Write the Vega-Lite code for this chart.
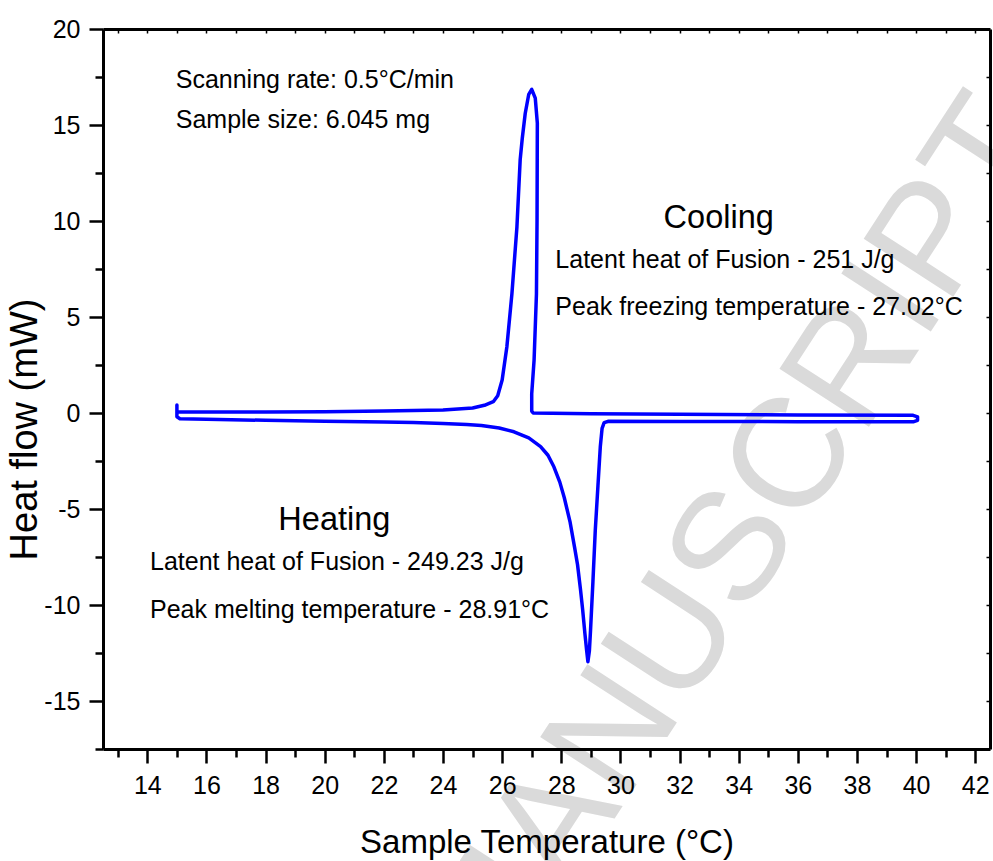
{
  "$schema": "https://vega.github.io/schema/vega-lite/v6.json",
  "width": 887,
  "height": 720,
  "autosize": {"type": "none"},
  "padding": {"left": 103, "top": 29, "right": 3, "bottom": 112},
  "background": "white",
  "config": {
    "view": {"stroke": null},
    "font": "Liberation Sans",
    "axis": {
      "grid": false,
      "domainColor": "black",
      "tickColor": "black",
      "labelColor": "black",
      "titleColor": "black",
      "domainWidth": 3,
      "tickWidth": 2.5,
      "labelFont": "Liberation Sans",
      "titleFont": "Liberation Sans",
      "labelFontSize": 25,
      "titleFontWeight": "normal"
    }
  },
  "datasets": {
    "curve": [
      {"i": 0, "t": 15.0, "h": 0.42},
      {"i": 1, "t": 15.0, "h": -0.2},
      {"i": 2, "t": 15.1, "h": -0.3},
      {"i": 3, "t": 16.0, "h": -0.33},
      {"i": 4, "t": 18.0, "h": -0.38},
      {"i": 5, "t": 20.0, "h": -0.43},
      {"i": 6, "t": 22.0, "h": -0.47},
      {"i": 7, "t": 23.0, "h": -0.5},
      {"i": 8, "t": 24.0, "h": -0.55},
      {"i": 9, "t": 24.8, "h": -0.6},
      {"i": 10, "t": 25.3, "h": -0.65},
      {"i": 11, "t": 25.9, "h": -0.78},
      {"i": 12, "t": 26.4, "h": -0.98},
      {"i": 13, "t": 26.9, "h": -1.3},
      {"i": 14, "t": 27.3, "h": -1.75},
      {"i": 15, "t": 27.55, "h": -2.2},
      {"i": 16, "t": 27.75, "h": -2.8},
      {"i": 17, "t": 27.95, "h": -3.6},
      {"i": 18, "t": 28.1, "h": -4.4},
      {"i": 19, "t": 28.3, "h": -5.7},
      {"i": 20, "t": 28.45, "h": -7.0},
      {"i": 21, "t": 28.55, "h": -7.9},
      {"i": 22, "t": 28.65, "h": -9.2},
      {"i": 23, "t": 28.72, "h": -10.2},
      {"i": 24, "t": 28.8, "h": -11.5},
      {"i": 25, "t": 28.86, "h": -12.4},
      {"i": 26, "t": 28.9, "h": -12.95},
      {"i": 27, "t": 28.95, "h": -12.4},
      {"i": 28, "t": 28.99, "h": -11.3},
      {"i": 29, "t": 29.07, "h": -8.8},
      {"i": 30, "t": 29.15, "h": -6.1},
      {"i": 31, "t": 29.24, "h": -3.8},
      {"i": 32, "t": 29.32, "h": -1.75},
      {"i": 33, "t": 29.38, "h": -0.8},
      {"i": 34, "t": 29.45, "h": -0.5},
      {"i": 35, "t": 29.6, "h": -0.43},
      {"i": 36, "t": 32.0, "h": -0.44},
      {"i": 37, "t": 36.0, "h": -0.45},
      {"i": 38, "t": 39.9, "h": -0.46},
      {"i": 39, "t": 40.05, "h": -0.38},
      {"i": 40, "t": 40.05, "h": -0.2},
      {"i": 41, "t": 39.9, "h": -0.12},
      {"i": 42, "t": 36.0, "h": -0.1},
      {"i": 43, "t": 32.0, "h": -0.07},
      {"i": 44, "t": 29.0, "h": -0.04},
      {"i": 45, "t": 27.05, "h": 0.0},
      {"i": 46, "t": 27.0, "h": 0.1},
      {"i": 47, "t": 27.0, "h": 1.0},
      {"i": 48, "t": 27.08, "h": 2.75},
      {"i": 49, "t": 27.16, "h": 6.2},
      {"i": 50, "t": 27.18, "h": 10.0},
      {"i": 51, "t": 27.19, "h": 15.1},
      {"i": 52, "t": 27.12, "h": 16.4},
      {"i": 53, "t": 27.0, "h": 16.86},
      {"i": 54, "t": 26.9, "h": 16.6},
      {"i": 55, "t": 26.78, "h": 15.6},
      {"i": 56, "t": 26.68, "h": 14.3},
      {"i": 57, "t": 26.61, "h": 13.2},
      {"i": 58, "t": 26.5, "h": 9.7},
      {"i": 59, "t": 26.33, "h": 6.2},
      {"i": 60, "t": 26.16, "h": 3.45},
      {"i": 61, "t": 26.0, "h": 1.72},
      {"i": 62, "t": 25.85, "h": 0.9},
      {"i": 63, "t": 25.7, "h": 0.59},
      {"i": 64, "t": 25.4, "h": 0.4},
      {"i": 65, "t": 25.0, "h": 0.26},
      {"i": 66, "t": 24.0, "h": 0.15},
      {"i": 67, "t": 22.0, "h": 0.1},
      {"i": 68, "t": 20.0, "h": 0.07},
      {"i": 69, "t": 18.0, "h": 0.05},
      {"i": 70, "t": 15.05, "h": 0.05}
    ],
    "notes": [
      {"t": 14.96, "h": 16.93, "label": "Scanning rate: 0.5°C/min"},
      {"t": 14.96, "h": 14.86, "label": "Sample size: 6.045 mg"},
      {"t": 14.09, "h": -8.18, "label": "Latent heat of Fusion - 249.23 J/g"},
      {"t": 14.09, "h": -10.69, "label": "Peak melting temperature - 28.91°C"},
      {"t": 27.8, "h": 7.54, "label": "Latent heat of Fusion - 251 J/g"},
      {"t": 27.8, "h": 5.1, "label": "Peak freezing temperature - 27.02°C"}
    ],
    "heads": [
      {"t": 18.43, "h": -6.09, "label": "Heating"},
      {"t": 31.46, "h": 9.62, "label": "Cooling"}
    ],
    "mark": [
      {"t": 33.9, "h": -6.9, "label": "MANUSCRIPT"}
    ]
  },
  "layer": [
    {
      "data": {"name": "mark"},
      "mark": {"type": "text", "angle": -57, "fontSize": 155, "color": "#dadada", "align": "center", "baseline": "middle", "font": "Liberation Sans"},
      "encoding": {
        "x": {"field": "t", "type": "quantitative", "scale": {"domain": [12.5, 42.5], "nice": false, "zero": false}, "axis": null},
        "y": {"field": "h", "type": "quantitative", "scale": {"domain": [-17.5, 20], "nice": false, "zero": false}, "axis": null},
        "text": {"field": "label"}
      }
    },
    {
      "data": {"name": "curve"},
      "mark": {"type": "line", "color": "#0000ff", "strokeWidth": 3.5, "strokeJoin": "round", "strokeCap": "round"},
      "encoding": {
        "x": {
          "field": "t", "type": "quantitative",
          "scale": {"domain": [12.5, 42.5], "nice": false, "zero": false},
          "axis": {
            "orient": "bottom",
            "zindex": 1,
            "title": "Sample Temperature (°C)",
            "titleFontSize": 33,
            "titleX": 443.5,
            "titleY": 103,
            "titleBaseline": "alphabetic",
            "titleAlign": "center",
            "values": [13,14,15,16,17,18,19,20,21,22,23,24,25,26,27,28,29,30,31,32,33,34,35,36,37,38,39,40,41,42],
            "tickSize": {"condition": {"test": "datum.value % 2 === 0", "value": 14}, "value": 8},
            "labelExpr": "datum.value % 2 === 0 ? datum.label : ''",
            "labelPadding": 10,
            "labelFlush": false,
            "labelOverlap": false
          }
        },
        "y": {
          "field": "h", "type": "quantitative",
          "scale": {"domain": [-17.5, 20], "nice": false, "zero": false},
          "axis": {
            "orient": "left",
            "zindex": 1,
            "title": "Heat flow (mW)",
            "titleFontSize": 38,
            "titleAngle": -90,
            "titleX": -67,
            "titleY": 400,
            "titleBaseline": "alphabetic",
            "titleAlign": "center",
            "values": [-17.5,-15,-12.5,-10,-7.5,-5,-2.5,0,2.5,5,7.5,10,12.5,15,17.5,20],
            "tickSize": {"condition": {"test": "datum.value % 5 === 0", "value": 14}, "value": 8},
            "labelExpr": "datum.value % 5 === 0 ? '' + datum.value : ''",
            "labelPadding": 9,
            "labelFlush": false,
            "labelOverlap": false
          }
        },
        "order": {"field": "i", "type": "quantitative"}
      }
    },
    {
      "data": {"name": "notes"},
      "mark": {"type": "text", "fontSize": 25, "align": "left", "baseline": "alphabetic", "color": "black", "font": "Liberation Sans"},
      "encoding": {
        "x": {"field": "t", "type": "quantitative", "scale": {"domain": [12.5, 42.5], "nice": false, "zero": false}, "axis": null},
        "y": {"field": "h", "type": "quantitative", "scale": {"domain": [-17.5, 20], "nice": false, "zero": false}, "axis": null},
        "text": {"field": "label"}
      }
    },
    {
      "data": {"name": "heads"},
      "mark": {"type": "text", "fontSize": 32.5, "align": "left", "baseline": "alphabetic", "color": "black", "font": "Liberation Sans"},
      "encoding": {
        "x": {
          "field": "t", "type": "quantitative",
          "scale": {"domain": [12.5, 42.5], "nice": false, "zero": false},
          "axis": {"orient": "top", "zindex": 1, "title": null, "labels": false, "values": [13,14,15,16,17,18,19,20,21,22,23,24,25,26,27,28,29,30,31,32,33,34,35,36,37,38,39,40,41,42], "tickSize": -4, "tickWidth": 1.5}
        },
        "y": {
          "field": "h", "type": "quantitative",
          "scale": {"domain": [-17.5, 20], "nice": false, "zero": false},
          "axis": {"orient": "right", "zindex": 1, "title": null, "labels": false, "values": [-15,-12.5,-10,-7.5,-5,-2.5,0,2.5,5,7.5,10,12.5,15,17.5], "tickSize": -4, "tickWidth": 1.5}
        },
        "text": {"field": "label"}
      }
    }
  ],
  "resolve": {"axis": {"x": "independent", "y": "independent"}}
}
